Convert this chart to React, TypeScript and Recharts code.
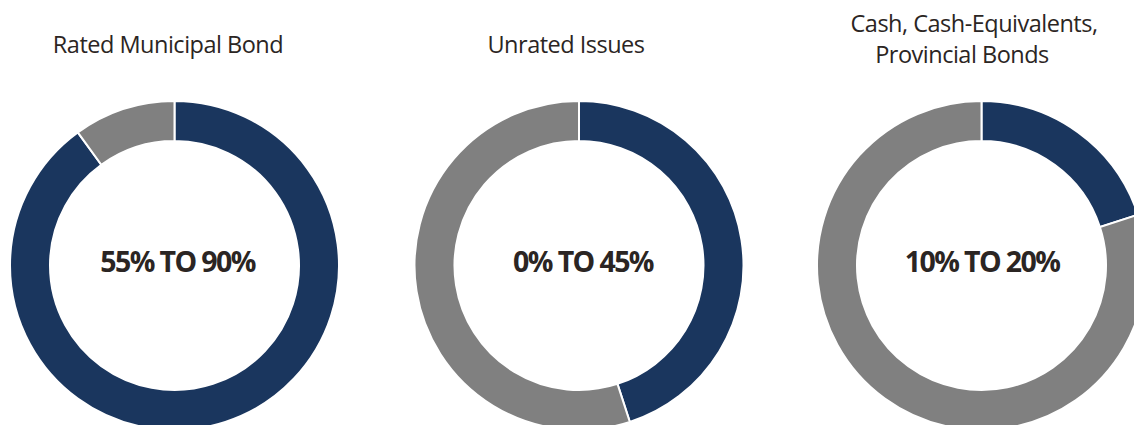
import React from "react";
import { PieChart, Pie, Cell, Customized } from "recharts";

const categories = ["Rated Municipal Bond", "Unrated Issues", "Cash, Cash-Equivalents, Provincial Bonds"];
const titleLines = [["Rated Municipal Bond"], ["Unrated Issues"], ["Cash, Cash-Equivalents,", "Provincial Bonds"]];
const rangeLabels = ["55% TO 90%", "0% TO 45%", "10% TO 20%"];
const allocationMax = [90, 45, 20];
const remainder = [10, 55, 80];

const BLUE = "#1a365e";
const GRAY = "#808080";
const TEXT = "#2b2523";

const centersX = [174.5, 579, 981.5];
const centerY = 265.5;
const titleX = [[168], [566], [974, 962]];
const titleY = [[53], [53], [32, 63]];
const rangeX = [177.5, 583, 982];
const rangeY = 271.5;

export default function App() {
  const datasets = categories.map((c, i) => [
    { name: "Allocation", value: allocationMax[i] },
    { name: "Other", value: remainder[i] },
  ]);
  return (
    <div style={{ position: "absolute", left: 0, top: 0, width: 1134, height: 425, background: "#fff" }}>
      <PieChart width={1134} height={425} margin={{ top: 0, right: 0, bottom: 0, left: 0 }}>
        {datasets.map((d, i) => (
          <Pie
            key={categories[i]}
            data={d}
            dataKey="value"
            nameKey="name"
            cx={centersX[i]}
            cy={centerY}
            innerRadius={124.5}
            outerRadius={164.5}
            startAngle={90}
            endAngle={-270}
            stroke="#ffffff"
            strokeWidth={2}
            isAnimationActive={false}
          >
            <Cell fill={BLUE} />
            <Cell fill={GRAY} />
          </Pie>
        ))}
        <Customized
          component={() => (
            <g>
              {titleLines.map((lines, i) =>
                lines.map((ln, j) => (
                  <text
                    key={`t-${i}-${j}`}
                    x={titleX[i][j]}
                    y={titleY[i][j]}
                    textAnchor="middle"
                    fill={TEXT}
                    style={{ fontFamily: "'Open Sans', sans-serif", fontSize: 23.5, letterSpacing: -0.5 }}
                  >
                    {ln}
                  </text>
                ))
              )}
              {rangeLabels.map((lb, i) => (
                <text
                  key={`r-${i}`}
                  x={rangeX[i]}
                  y={rangeY}
                  textAnchor="middle"
                  fill={TEXT}
                  style={{ fontFamily: "'Open Sans', sans-serif", fontWeight: 700, fontSize: 28.5, letterSpacing: -1.6 }}
                >
                  {lb}
                </text>
              ))}
            </g>
          )}
        />
      </PieChart>
    </div>
  );
}
